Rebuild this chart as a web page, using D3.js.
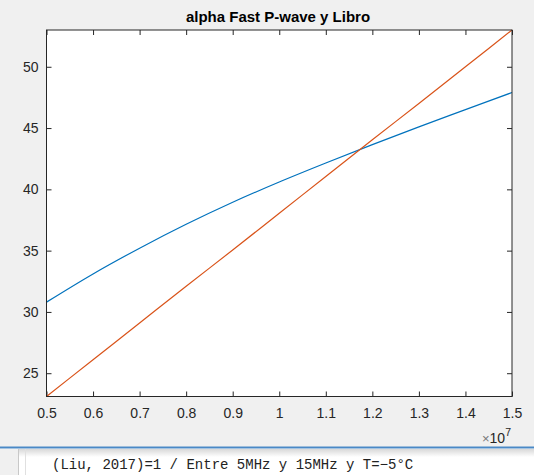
<!DOCTYPE html>
<html><head><meta charset="utf-8">
<script src="https://cdn.jsdelivr.net/npm/d3@7"></script>
<style>
html,body{margin:0;padding:0;background:#f0f0f0;}
svg{display:block;}
</style></head>
<body>
<svg id="c" width="534" height="475"></svg>
<script>
// Data (frequency in Hz, alpha values)
const freqs = [5e6, 6e6, 7e6, 8e6, 9e6, 10e6, 11e6, 12e6, 13e6, 14e6, 15e6];
const alphaFastP = [30.8, 33.1, 35.2, 37.15, 38.95, 40.6, 42.15, 43.65, 45.1, 46.5, 47.9];
const alphaLibro = [23.1, 26.1, 29.1, 32.1, 35.05, 38.05, 41.05, 44.05, 47.0, 50.0, 53.0];
const xTicks = [5e6, 6e6, 7e6, 8e6, 9e6, 10e6, 11e6, 12e6, 13e6, 14e6, 15e6];
const yTicks = [25, 30, 35, 40, 45, 50];
const titleText = "alpha Fast P-wave y Libro";
const noteText = "(Liu, 2017)=1 / Entre 5MHz y 15MHz y T=\u22125\u00B0C";

const svg = d3.select("#c");
const L = 46.5, R = 512, T = 30, B = 396.5;
const x = d3.scaleLinear().domain(d3.extent(freqs)).range([L, R]);
const y = d3.scaleLinear().domain(d3.extent(alphaLibro)).range([B, T]);
const axCol = "#262626";
const font = "Liberation Sans, Arial, Helvetica, sans-serif";

// bottom panel
svg.append("rect").attr("x",0).attr("y",448).attr("width",534).attr("height",27).attr("fill","#ffffff");
const grad = svg.append("defs").append("linearGradient").attr("id","sh").attr("x1",0).attr("y1",0).attr("x2",0).attr("y2",1);
grad.append("stop").attr("offset",0).attr("stop-color","#d8d8d8");
grad.append("stop").attr("offset",1).attr("stop-color","#ffffff");
svg.append("rect").attr("x",0).attr("y",449).attr("width",534).attr("height",8).attr("fill","url(#sh)");
svg.append("rect").attr("x",0).attr("y",449).attr("width",18).attr("height",26).attr("fill","#f0f0f0");
svg.append("line").attr("x1",18.5).attr("x2",18.5).attr("y1",449).attr("y2",475).attr("stroke","#c8c8c8");
svg.append("line").attr("x1",25.5).attr("x2",25.5).attr("y1",449).attr("y2",475).attr("stroke","#e0e0e0");
svg.append("rect").attr("x",0).attr("y",446.5).attr("width",534).attr("height",2).attr("fill","#4b89c6");
svg.append("text").attr("x",52).attr("y",469).attr("font-family","Liberation Mono, Courier New, monospace")
  .attr("font-size",14).attr("fill","#222").text(noteText);

// plot area
svg.append("rect").attr("x",L).attr("y",T).attr("width",R-L).attr("height",B-T).attr("fill","#ffffff");

const gx = svg.append("g").attr("transform",`translate(0,${B})`)
  .call(d3.axisBottom(x).tickValues(xTicks).tickSizeInner(-5).tickSizeOuter(0).tickPadding(11.5)
    .tickFormat(d => d3.format("~g")(d/1e7)));
const gxt = svg.append("g").attr("transform",`translate(0,${T})`)
  .call(d3.axisTop(x).tickValues(xTicks).tickSizeInner(-5).tickSizeOuter(0).tickFormat(""));
const gy = svg.append("g").attr("transform",`translate(${L},0)`)
  .call(d3.axisLeft(y).tickValues(yTicks).tickSizeInner(-5).tickSizeOuter(0).tickPadding(8));
const gyr = svg.append("g").attr("transform",`translate(${R},0)`)
  .call(d3.axisRight(y).tickValues(yTicks).tickSizeInner(-5).tickSizeOuter(0).tickFormat(""));
[gx,gxt,gy,gyr].forEach(g => {
  g.selectAll("path.domain").remove();
  g.selectAll("line").attr("stroke",axCol);
  g.selectAll("text").attr("fill",axCol).attr("font-family",font).attr("font-size",14);
});

const line = d3.line().x((d,i)=>x(freqs[i])).y(d=>y(d)).curve(d3.curveMonotoneX);
svg.append("path").datum(alphaFastP).attr("d",line).attr("fill","none").attr("stroke","#0072BD").attr("stroke-width",1.2);
svg.append("path").datum(alphaLibro).attr("d",line).attr("fill","none").attr("stroke","#D95319").attr("stroke-width",1.2);

svg.append("rect").attr("x",L).attr("y",T).attr("width",R-L).attr("height",B-T)
  .attr("fill","none").attr("stroke",axCol).attr("stroke-width",1);

// exponent label
const ex = svg.append("text").attr("x",511).attr("y",442.5).attr("text-anchor","end")
  .attr("font-family",font).attr("font-size",14).attr("fill",axCol);
ex.append("tspan").attr("fill","#777").attr("font-size",13).text("\u00D7");
ex.append("tspan").text("10");
ex.append("tspan").attr("dy",-7).attr("font-size",10.5).text("7");

// title
svg.append("text").attr("x",278).attr("y",22).attr("text-anchor","middle")
  .attr("font-family",font).attr("font-weight","bold").attr("font-size",15).attr("fill","#000").text(titleText);
</script>
</body></html>
